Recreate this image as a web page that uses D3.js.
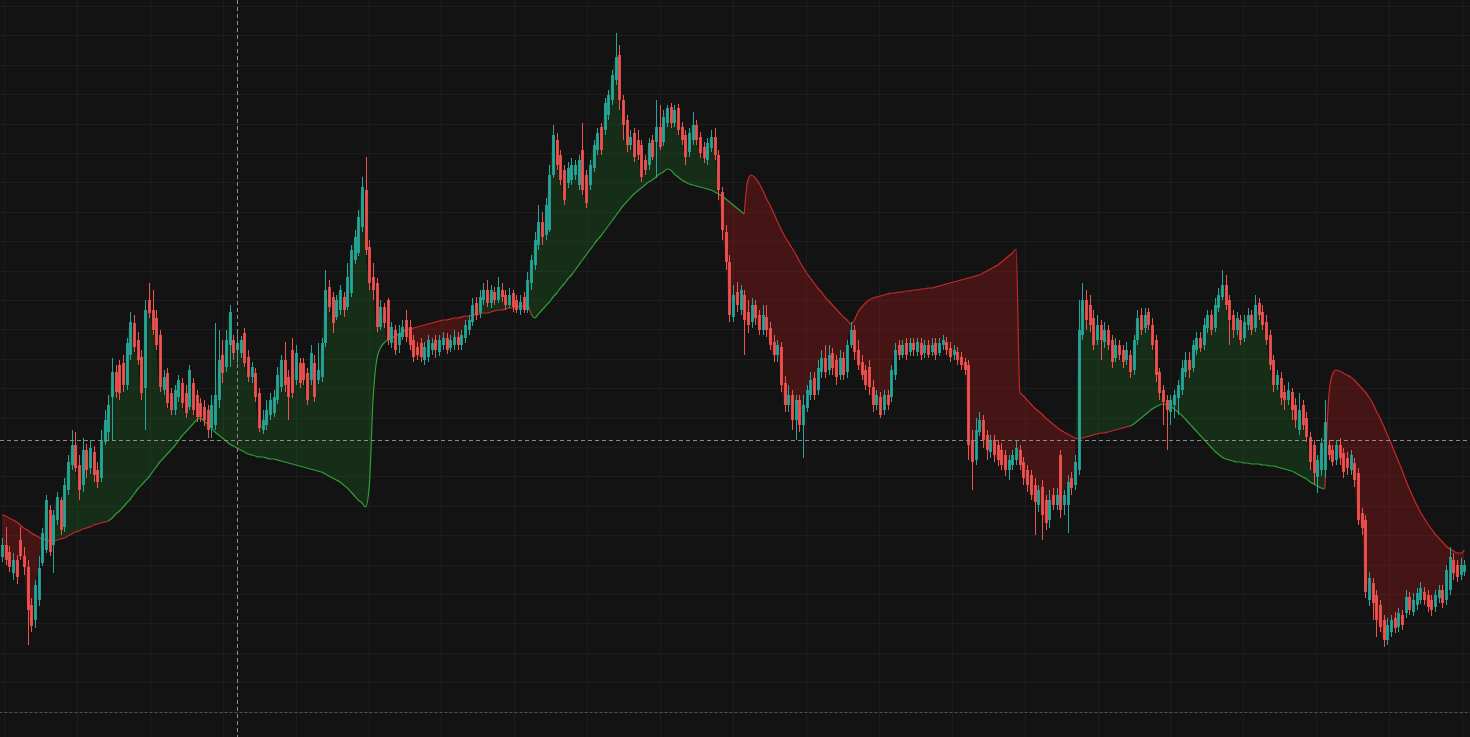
<!DOCTYPE html>
<html><head><meta charset="utf-8">
<script src="https://cdn.jsdelivr.net/npm/d3@7"></script>
<style>html,body{margin:0;padding:0;background:#131313;overflow:hidden}</style>
</head><body>
<svg id="chart" width="1470" height="737"></svg>
<script>
// ---- data (price units) ----
const open = [
443,455,448,427,440,460,444,433,395,380, 400,437,450,490,455,480,500,473,510,535,
555,535,515,550,532,548,530,522,558,568, 603,628,635,637,615,645,677,660,643,612,
700,690,682,665,610,627,607,590,603,617, 607,593,617,605,597,593,590,572,575,600,
645,633,655,660,650,647,667,643,623,627, 607,570,575,585,587,600,613,640,623,650,
620,637,637,627,620,637,620,623,657,713, 703,683,690,703,693,707,740,747,773,810,
753,723,717,673,693,700,657,670,655,663, 680,673,660,653,657,640,643,650,660,648,
655,662,652,655,663,655,662,670,678,697, 687,700,710,697,708,700,710,705,695,707,
700,690,703,690,717,735,755,778,765,770, 825,860,845,830,817,820,825,815,850,825,
815,832,850,873,870,885,900,920,945,900, 880,855,867,860,855,840,835,860,858,873,
858,877,893,877,892,873,865,848,860,875, 863,853,840,852,863,845,808,768,738,683,
708,690,705,688,678,695,685,670,683,672, 658,645,653,617,595,605,580,600,575,592,
605,622,610,628,642,630,647,640,625,642, 628,655,670,650,638,630,633,613,595,603,
590,605,603,625,655,645,657,648,657,648, 657,647,655,648,657,647,655,658,652,645,
648,643,638,635,560,540,568,580,565,548, 560,555,550,545,530,535,540,550,538,530,
525,515,495,513,500,480,505,495,545,495, 495,522,515,530,665,700,695,682,660,675,
658,670,660,642,655,650,640,645,630,660, 685,672,688,675,660,628,610,600,588,595,
602,610,628,640,632,650,662,655,672,685, 672,692,703,715,700,685,670,680,662,675,
685,672,697,688,678,665,640,615,622,608, 600,608,595,570,595,582,563,555,523,530,
530,555,550,540,555,547,542,530,537,527, 487,480,400,417,405,395,380,360,368,382,
373,385,387,403,388,395,400,408,405,400, 393,402,410,400,410,440,435,425,428];
const high = [
462,473,454,447,445,473,453,440,402,420, 444,472,505,495,490,508,503,522,545,570,
568,545,562,556,560,554,538,570,590,605, 642,635,640,645,662,688,685,668,650,700,
717,710,690,670,630,632,612,615,625,622, 615,635,622,610,602,600,595,605,677,670,
660,670,695,665,670,664,672,650,638,632, 612,590,600,607,610,633,645,658,630,662,
655,642,642,632,655,645,657,662,730,720, 708,705,715,708,737,755,770,790,823,843,
760,737,722,700,697,702,678,675,675,680, 690,680,665,658,662,658,665,662,665,665,
668,667,665,670,668,670,680,685,702,703, 710,717,720,715,713,723,717,710,712,710,
705,705,708,728,745,768,795,788,802,835, 875,867,850,835,838,842,840,845,877,830,
840,860,872,877,902,910,930,967,955,905, 885,870,872,870,860,845,862,865,900,895,
890,895,897,895,896,878,870,872,888,880, 868,858,862,870,872,850,813,775,745,715,
718,715,710,700,702,700,690,695,695,678, 665,660,658,624,615,610,605,605,605,615,
628,628,640,650,655,655,652,645,650,648, 660,678,675,660,645,635,640,620,610,608,
610,610,635,657,660,660,662,662,662,662, 662,660,660,662,662,662,665,663,658,655,
653,648,642,640,570,582,588,585,570,565, 565,560,557,550,545,550,560,555,543,535,
530,522,515,520,505,510,512,512,550,510, 525,528,545,700,717,710,705,690,685,680,
678,675,665,662,660,655,658,650,665,690, 692,692,692,682,665,632,615,605,605,610,
620,640,648,648,660,668,668,682,690,690, 702,712,730,725,705,690,688,685,685,692,
690,705,702,695,685,670,645,630,628,615, 618,612,602,607,600,588,568,560,545,562,
600,560,555,560,562,552,548,550,542,532, 492,485,428,422,410,400,385,382,385,388,
392,390,410,408,407,412,418,413,410,405, 410,415,415,435,453,447,440,442,440];
const low = [
438,435,428,420,416,440,425,355,368,372, 394,434,447,444,427,475,465,468,505,530,
528,500,508,522,526,518,512,518,555,560, 560,602,600,608,610,640,648,635,600,570,
682,665,650,608,605,592,585,585,598,592, 582,590,585,578,578,574,562,562,570,592,
617,628,633,640,637,642,633,618,617,598, 568,566,570,580,583,596,608,608,580,602,
615,612,615,595,615,598,616,618,653,688, 667,680,685,683,690,703,736,744,768,745,
710,700,668,670,672,655,652,645,647,660, 658,650,638,640,638,635,638,645,642,644,
650,646,648,650,650,650,657,665,674,680, 682,695,693,692,695,697,698,690,692,688,
687,685,687,687,710,730,750,755,760,768, 822,830,815,795,812,815,820,810,805,792,
810,828,845,845,865,880,895,915,890,860, 848,850,838,840,818,825,830,840,822,850,
854,873,872,873,865,855,835,843,855,855, 842,837,835,848,840,800,760,730,678,678,
688,685,645,667,672,675,665,665,663,650, 638,638,608,588,588,570,560,568,542,588,
600,600,605,622,622,625,625,615,620,620, 622,652,640,630,620,610,605,588,590,582,
585,590,598,620,640,642,640,644,644,644, 640,642,642,644,640,644,650,645,638,640,
635,630,625,540,510,535,564,552,540,542, 538,534,530,524,520,530,535,530,515,508,
500,465,488,460,470,472,490,490,482,485, 467,505,510,525,660,670,668,650,655,640,
652,650,632,638,640,632,635,622,625,655, 665,667,670,650,618,600,575,550,575,582,
585,605,623,622,628,645,648,650,667,665, 668,688,700,690,655,662,665,655,658,670,
665,668,680,670,655,630,608,610,595,590, 595,580,572,565,570,558,530,515,507,524,
522,540,534,535,535,522,525,525,513,475, 465,402,394,380,363,368,353,355,363,367,
368,370,382,385,384,390,396,395,388,384, 388,397,392,395,405,420,418,420,424];
const close = [
455,440,433,440,423,444,433,390,374,415, 432,467,500,448,485,503,470,515,538,555,
532,510,550,530,552,525,518,560,580,595, 628,608,607,615,657,678,653,640,607,690,
687,670,655,613,623,597,590,610,620,597, 587,630,590,583,583,580,570,595,605,640,
627,660,688,647,657,660,637,623,633,603, 572,580,590,600,603,625,640,615,603,607,
647,617,620,600,647,603,630,657,710,693, 677,700,710,690,723,750,763,783,813,750,
717,710,673,693,677,660,673,650,667,673, 663,655,643,645,643,653,660,657,650,660,
662,650,660,663,655,665,675,680,695,685, 703,710,697,710,700,713,703,695,705,693,
690,698,690,720,740,760,778,763,795,825, 865,835,820,800,832,835,835,840,810,797,
835,855,867,850,897,905,925,943,900,875, 855,863,843,845,823,830,857,843,873,853,
883,892,877,890,870,860,843,867,875,860, 847,842,857,863,845,810,770,738,685,705,
695,710,680,675,695,682,670,685,670,655, 645,655,615,595,605,580,600,575,595,610,
620,605,632,642,628,645,632,623,642,625, 655,670,648,635,625,615,613,595,605,585,
605,595,630,650,645,655,645,657,650,658, 645,655,645,655,645,657,660,650,643,650,
640,635,630,555,538,570,580,560,550,560, 545,540,535,530,540,545,552,535,522,515,
505,498,510,485,477,500,495,505,490,505, 518,512,538,670,700,680,675,655,675,660,
670,655,638,655,645,638,650,628,660,682, 670,685,675,655,625,607,598,590,600,605,
615,632,640,630,655,662,652,675,685,670, 695,705,715,695,680,670,682,660,678,685,
670,695,685,675,660,635,615,625,602,600, 610,590,580,590,575,563,538,527,540,557,
578,545,538,555,542,528,532,545,520,480, 472,408,422,397,380,373,360,375,380,372,
387,375,403,390,400,407,412,400,393,390, 405,410,397,430,443,427,423,435,435];
// trailing band (same price units)
const band = [
485,484,482,480,478,475,472,470,467,465, 463,461,460,459,459,460,461,462,464,466,
468,469,471,472,473,475,476,477,478,479, 482,486,489,493,497,501,506,511,515,519,
523,528,533,538,542,546,550,554,559,564, 568,572,576,580,582,579,576,572,568,565,
562,559,556,554,552,550,548,546,545,544, 543,543,542,541,541,540,539,538,537,536,
535,534,533,532,531,530,529,528,526,524, 522,520,518,515,512,508,504,500,497,493,
515,600,640,652,657,660,662,664,666,668, 670,671,672,673,674,675,676,677,678,679,
680,680,681,682,682,683,684,684,685,685, 686,687,687,688,689,690,690,691,692,692,
693,694,694,695,686,682,686,690,694,698, 703,707,712,716,721,725,730,735,740,745,
750,755,760,764,769,774,779,784,789,794, 798,802,806,809,812,815,818,820,823,826,
828,831,830,826,823,820,818,816,815,814, 813,812,811,810,808,806,804,801,798,795,
792,789,786,820,825,822,817,810,802,795, 787,779,771,764,758,752,746,739,733,727,
722,717,712,708,703,699,695,691,687,683, 680,676,680,688,693,697,700,702,703,704,
705,706,707,707,708,708,709,709,710,710, 711,711,712,712,713,714,715,716,717,718,
719,720,721,722,723,724,725,727,729,731, 733,735,738,741,744,747,751,608,604,600,
596,592,589,586,582,579,576,573,570,568, 566,564,562,561,562,563,564,565,566,567,
567,568,569,570,571,572,573,574,576,579, 582,585,588,591,593,595,596,596,594,591,
588,585,581,577,573,569,565,561,557,553, 549,546,543,541,540,539,538,538,537,537,
536,536,536,535,535,534,534,533,532,531, 530,529,527,525,523,521,518,516,514,512,
511,600,625,630,629,627,625,623,620,616, 612,608,603,597,589,582,574,565,557,548,
539,530,520,511,503,495,488,482,476,471, 466,462,458,454,451,449,447,447,450];
// band line state by candle range: [first, last, 1 = up (green) / -1 = down (red)]
const trendRuns = [[0,29,-1],[30,110,1],[111,144,-1],[145,202,1],[203,307,-1],[308,360,1],[361,398,-1]];
const crosshair = {index: 64, price: 560};

// ---- layout ----
const W = 1470, H = 737, N = close.length, STEP = 3.675;
const svg = d3.select('#chart');
const x = d3.scaleLinear().domain([-0.5, N - 0.5]).range([0, N * STEP]);
const y = d3.scaleLinear().domain([1000, 263]).range([0, H]);
const gridPrices = d3.range(0, 25).map(k => 994 - 29.4 * k);
const gridTimes = d3.range(0, 21).map(k => (4 + 72.9 * k) / STEP - 0.5);

svg.append('rect').attr('width', W).attr('height', H).attr('fill', '#131313');
const grid = svg.append('g');
grid.selectAll('line.h').data(gridPrices.slice(0, 24)).join('line')
  .attr('x1', 0).attr('x2', W)
  .attr('y1', d => Math.round(y(d)) + 0.5).attr('y2', d => Math.round(y(d)) + 0.5)
  .attr('stroke', '#1d1d1d').attr('stroke-width', 1);
grid.selectAll('line.v').data(gridTimes).join('line')
  .attr('y1', 0).attr('y2', H)
  .attr('x1', d => Math.round(x(d)) + 0.5).attr('x2', d => Math.round(x(d)) + 0.5)
  .attr('stroke', '#1d1d1d').attr('stroke-width', 1);

// ---- band fill ----
const idx = d3.range(N);
const curve = d3.curveMonotoneX;
const defs = svg.append('defs');
defs.append('clipPath').attr('id', 'above').append('path')
  .attr('d', d3.area().x(i => x(i)).y0(i => y(band[i])).y1(-50).curve(curve)(idx));
defs.append('clipPath').attr('id', 'below').append('path')
  .attr('d', d3.area().x(i => x(i)).y0(i => y(band[i])).y1(H + 50).curve(curve)(idx));
const fillArea = d3.area().x(i => x(i)).y0(i => y(band[i])).y1(i => y(close[i])).curve(curve);
svg.append('path').attr('d', fillArea(idx)).attr('fill', 'rgba(30,120,34,0.26)').attr('clip-path', 'url(#above)');
svg.append('path').attr('d', fillArea(idx)).attr('fill', 'rgba(200,30,28,0.28)').attr('clip-path', 'url(#below)');

// ---- band line ----
const bandLine = d3.line().x(i => x(i)).y(i => y(band[i])).curve(curve);
trendRuns.forEach(([s, e, t]) => {
  svg.append('path').attr('d', bandLine(d3.range(Math.max(0, s - 1), e + 1)))
    .attr('fill', 'none').attr('stroke', t > 0 ? '#2f9e35' : '#c62828').attr('stroke-width', 1.2);
});

// ---- candles ----
const up = '#26a69a', dn = '#ef5350';
const cg = svg.append('g');
cg.selectAll('line').data(idx).join('line')
  .attr('x1', i => Math.round(x(i)) + 0.5).attr('x2', i => Math.round(x(i)) + 0.5)
  .attr('y1', i => y(Math.max(high[i], open[i], close[i])))
  .attr('y2', i => y(Math.min(low[i], open[i], close[i])))
  .attr('stroke', i => close[i] >= open[i] ? up : dn).attr('stroke-width', 1);
cg.selectAll('rect').data(idx).join('rect')
  .attr('x', i => Math.round(x(i)) + 0.5 - 1.4).attr('width', 2.8)
  .attr('y', i => y(Math.max(open[i], close[i])))
  .attr('height', i => Math.max(1, Math.abs(y(open[i]) - y(close[i]))))
  .attr('fill', i => close[i] >= open[i] ? up : dn);

// ---- bottom dotted line & crosshair ----
const yb = Math.round(y(gridPrices[24])) + 0.5;
svg.append('line').attr('x1', 0).attr('x2', W).attr('y1', yb).attr('y2', yb)
  .attr('stroke', '#1b302c').attr('stroke-width', 1);
svg.append('line').attr('x1', 0).attr('x2', W).attr('y1', yb).attr('y2', yb)
  .attr('stroke', '#4d5a58').attr('stroke-width', 1).attr('stroke-dasharray', '2,3');
const cx = Math.round(x(crosshair.index)) + 0.5, cy = Math.round(y(crosshair.price)) + 0.5;
svg.append('line').attr('x1', cx).attr('x2', cx).attr('y1', 0).attr('y2', H)
  .attr('stroke', '#8c8c8c').attr('stroke-width', 1).attr('stroke-dasharray', '4,3');
svg.append('line').attr('x1', 0).attr('x2', W).attr('y1', cy).attr('y2', cy)
  .attr('stroke', '#8c8c8c').attr('stroke-width', 1).attr('stroke-dasharray', '4,3');
</script>
</body></html>
